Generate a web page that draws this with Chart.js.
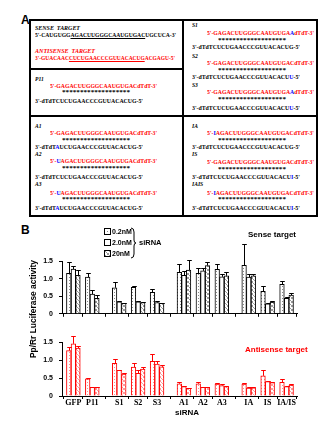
<!DOCTYPE html>
<html><head><meta charset="utf-8">
<script src="https://cdn.jsdelivr.net/npm/chart.js@4.4.0/dist/chart.umd.min.js"></script>
<style>
html,body{margin:0;padding:0;background:#fff;}
body{width:333px;height:428px;position:relative;overflow:hidden;font-family:'Liberation Sans',Arial,sans-serif;}
.abs{position:absolute;white-space:nowrap;}
.seq{font:bold 7px 'Liberation Serif','Times New Roman',serif;line-height:7px;transform-origin:0 50%;}
.lab{font:italic bold 7px 'Liberation Serif','Times New Roman',serif;line-height:7px;transform-origin:0 50%;color:#000;}
.sans{font-family:'Liberation Sans',Arial,sans-serif;font-weight:bold;}
.r{color:#ff0000}.b{color:#0000ff}
.ul{text-decoration:underline;}
.ln{position:absolute;background:#000;}
canvas{position:absolute;left:0;}
</style></head><body>

<div class="abs sans" style="left:21px;top:14px;font-size:12px;line-height:12px;">A</div>
<div class="abs sans" style="left:21px;top:224px;font-size:12px;line-height:12px;">B</div>

<div class="ln" style="left:29px;top:19px;width:289px;height:2px;"></div>
<div class="ln" style="left:29px;top:215px;width:289px;height:2px;"></div>
<div class="ln" style="left:29px;top:19px;width:2px;height:198px;"></div>
<div class="ln" style="left:316px;top:19px;width:2px;height:198px;"></div>
<div class="ln" style="left:182px;top:19px;width:2px;height:198px;"></div>
<div class="ln" style="left:29px;top:68px;width:154px;height:2px;"></div>
<div class="ln" style="left:29px;top:115px;width:289px;height:2px;"></div>

<div id="panelA"></div>

<canvas id="cTop" width="333" height="86" style="top:238px;"></canvas>
<canvas id="cBot" width="333" height="85" style="top:325px;"></canvas>

<div class="abs sans" style="left:248px;top:231px;font-size:8px;line-height:8px;color:#000;">Sense target</div>
<div class="abs sans" style="left:245px;top:346px;font-size:8px;line-height:8px;color:#ff0000;">Antisense target</div>
<div class="abs sans" style="left:175px;top:409px;font-size:8px;line-height:8px;">siRNA</div>
<div id="ytitle" class="abs sans" style="left:33px;top:309px;font-size:8.5px;line-height:9px;transform-origin:0 0;">Pp/Rr Luciferase activity</div>

<div id="legend"></div>

<script>
// ---------------- data ----------------
const categories = ['GFP','P11','S1','S2','S3','A1','A2','A3','IA','IS','IA/IS'];
const groupOf    = [0,0,1,1,1,2,2,2,3,3,3];
const concentrations = ['0.2nM','2.0nM','20nM'];
const yTickLabels = ['0','0.5','1.0','1.5'];

// Sense target (mean, SEM)
const sense02  = [1.15,1.04,0.74,0.75,0.61,1.18,1.15,1.26,1.38,0.64,0.84];
const sense02e = [0.31,0.11,0.16,0.05,0.10,0.24,0.16,0.16,0.60,0.14,0.09];
const sense2   = [1.27,0.56,0.34,0.34,0.32,1.09,1.22,1.05,1.04,0.28,0.44];
const sense2e  = [0.10,0.11,0.03,0.02,0.03,0.14,0.07,0.07,0.08,0.02,0.05];
const sense20  = [1.09,0.44,0.30,0.32,0.30,1.24,1.37,1.08,1.08,0.33,0.53];
const sense20e = [0.16,0.10,0.02,0.02,0.02,0.30,0.09,0.10,0.06,0.02,0.05];

// Antisense target (mean, SEM)
const anti02  = [1.26,0.48,0.91,0.80,0.96,0.34,0.34,0.33,0.33,0.56,0.38];
const anti02e = [0.10,0.02,0.13,0.11,0.20,0.05,0.04,0.03,0.03,0.15,0.10];
const anti2   = [1.45,0.24,0.71,0.63,0.89,0.26,0.24,0.29,0.22,0.40,0.26];
const anti2e  = [0.21,0.00,0.02,0.08,0.07,0.03,0.02,0.03,0.02,0.02,0.02];
const anti20  = [1.33,0.24,0.61,0.75,0.81,0.21,0.24,0.26,0.23,0.37,0.30];
const anti20e = [0.07,0.02,0.03,0.05,0.05,0.01,0.01,0.02,0.02,0.03,0.02];

// ---------------- panel A text ----------------
const STARS = '*******************';
const rows = [
  [35,28,'SENSE&nbsp; TARGET','lab',45],
  [35,35,"5'-CAUGUGG<span class='ul'>AGACUUGGGCAAUGUGAC</span>UGCUCA-3'",'seq',141],
  [35,51,"<span class='r'>ANTISENSE&nbsp; TARGET</span>",'lab',60],
  [35,58,"<span class='r'>3'-GUACAAC<span class='ul'>CUCUGAACCCGUUACACUG</span>ACGAGU-5'</span>",'seq',140],

  [35,79,'P11','lab',0],
  [50,86,"<span class='r'>5'-GAGACUUGGGCAAUGUGACdTdT-3'</span>",'seq',107],
  [62,92,STARS,'seq',68],
  [35,101,"3'-dTdTCUCUGAACCCGUUACACUG-5'",'seq',108],

  [192,25,'S1','lab',0],
  [207,33,"<span class='r'>5'-GAGACUUGGGCAAUGUGA<span class='b'>A</span>dTdT-3'</span>",'seq',107],
  [218,40,STARS,'seq',68],
  [192,47,"3'-dTdTCUCUGAACCCGUUACACUG-5'",'seq',108],
  [192,56,'S2','lab',0],
  [207,63,"<span class='r'>5'-GAGACUUGGGCAAUGUGACdTdT-3'</span>",'seq',107],
  [218,70,STARS,'seq',68],
  [192,77,"3'-dTdTCUCUGAACCCGUUACACU<span class='b'>U</span>-5'",'seq',108],
  [192,85,'S3','lab',0],
  [207,92,"<span class='r'>5'-GAGACUUGGGCAAUGUGA<span class='b'>A</span>dTdT-3'</span>",'seq',107],
  [218,99,STARS,'seq',68],
  [192,108,"3'-dTdTCUCUGAACCCGUUACACU<span class='b'>U</span>-5'",'seq',108],

  [35,126,'A1','lab',0],
  [50,133,"<span class='r'>5'-GAGACUUGGGCAAUGUGACdTdT-3'</span>",'seq',107],
  [62,140,STARS,'seq',68],
  [35,147,"3'-dTdT<span class='b'>A</span>UCUGAACCCGUUACACUG-5'",'seq',108],
  [35,154,'A2','lab',0],
  [50,161,"<span class='r'>5'-<span class='b'>U</span>AGACUUGGGCAAUGUGACdTdT-3'</span>",'seq',107],
  [62,168,STARS,'seq',68],
  [35,177,"3'-dTdTCUCUGAACCCGUUACACUG-5'",'seq',108],
  [35,184,'A3','lab',0],
  [50,193,"<span class='r'>5'-<span class='b'>U</span>AGACUUGGGCAAUGUGACdTdT-3'</span>",'seq',107],
  [62,199,STARS,'seq',68],
  [35,208,"3'-dTdT<span class='b'>A</span>UCUGAACCCGUUACACUG-5'",'seq',108],

  [192,126,'IA','lab',0],
  [207,133,"<span class='r'>5'-<span class='b'>I</span>AGACUUGGGCAAUGUGACdTdT-3'</span>",'seq',107],
  [218,140,STARS,'seq',68],
  [192,147,"3'-dTdTCUCUGAACCCGUUACACUG-5'",'seq',108],
  [192,154,'IS','lab',0],
  [207,162,"<span class='r'>5'-GAGACUUGGGCAAUGUGACdTdT-3'</span>",'seq',107],
  [218,169,STARS,'seq',68],
  [192,177,"3'-dTdTCUCUGAACCCGUUACACU<span class='b'>I</span>-5'",'seq',108],
  [192,184,'IAIS','lab',0],
  [207,193,"<span class='r'>5'-<span class='b'>I</span>AGACUUGGGCAAUGUGACdTdT-3'</span>",'seq',107],
  [218,199,STARS,'seq',68],
  [192,208,"3'-dTdTCUCUGAACCCGUUACACU<span class='b'>I</span>-5'",'seq',108]
];
const pA = document.getElementById('panelA');
rows.forEach(([x,y,html,cls,w])=>{
  const d = document.createElement('div');
  d.className = 'abs ' + cls;
  d.style.left = x+'px'; d.style.top = (y-3.5)+'px';
  d.innerHTML = html;
  pA.appendChild(d);
  const nat = d.getBoundingClientRect().width;
  const s = w ? w/nat : 0.8;
  d.style.transform = 'scaleX('+s+')';
});

// y title fit
(function(){
  const t = document.getElementById('ytitle');
  const nat = t.getBoundingClientRect().width;
  const h = t.getBoundingClientRect().height;
  const s = 98/nat;
  t.style.transform = 'translate(' + (-h/2) + 'px,' + (nat*s/2) + 'px) rotate(-90deg) scaleX(' + s + ')';
})();

// ---------------- patterns ----------------
function makePattern(kind, color){
  const c = document.createElement('canvas');
  const n = kind==='dots' ? 3 : 4;
  c.width = n; c.height = n;
  const g = c.getContext('2d');
  g.fillStyle = '#fff'; g.fillRect(0,0,n,n);
  g.fillStyle = color;
  if (kind==='dots'){ g.fillRect(0,0,1,1); }
  else if (kind==='cross'){ [[0,0],[1,1],[2,2],[3,3],[3,0],[0,3]].forEach(p=>g.fillRect(p[0],p[1],1,1)); }
  return g.createPattern(c,'repeat');
}
const blackPats = [makePattern('dots','#8a8a8a'), '#ffffff', makePattern('cross','#9a9a9a')];
const redPats   = [makePattern('dots','#ff8c8c'), '#ffffff', makePattern('cross','#ff9a9a')];

// ---------------- layout of categories ----------------
const GAP = 0.42;
const positions = categories.map((c,i)=> i + GAP*groupOf[i]);

const errorBars = {
  id:'errorBars',
  afterDatasetsDraw(chart){
    const ctx = chart.ctx, ys = chart.scales.y;
    chart.data.datasets.forEach((ds,di)=>{
      const meta = chart.getDatasetMeta(di);
      meta.data.forEach((bar,i)=>{
        const e = ds.errors[i]; if(!e) return;
        const v = ds.data[i].y;
        const yTop = Math.round(ys.getPixelForValue(v+e)) + 0.5;
        const x = Math.round(bar.x) + 0.5;
        const hw = bar.width/2;
        ctx.save();
        ctx.strokeStyle = ds.borderColor; ctx.lineWidth = 1;
        ctx.beginPath();
        ctx.moveTo(x, bar.y); ctx.lineTo(x, yTop);
        ctx.moveTo(x-hw, yTop); ctx.lineTo(x+hw, yTop);
        ctx.stroke();
        ctx.restore();
      });
    });
  }
};

function buildChart(id, series, errs, color, pats, padTop, xHeight, showLabels){
  const datasets = series.map((vals,k)=>({
    label: concentrations[k],
    data: vals.map((v,i)=>({x: positions[i], y: v})),
    errors: errs[k],
    backgroundColor: pats[k],
    borderColor: color,
    borderWidth: 1,
    barThickness: 4.6
  }));
  return new Chart(document.getElementById(id), {
    type:'bar',
    data:{datasets},
    options:{
      responsive:false, animation:false, devicePixelRatio:1,
      layout:{padding:{top:padTop, right:36, left:0, bottom:0}},
      plugins:{legend:{display:false}, tooltip:{enabled:false}},
      scales:{
        x:{
          type:'linear', offset:false, bounds:'data', min:-0.6, max:positions[positions.length-1]+0.55,
          afterBuildTicks: s => { s.ticks = positions.map(v=>({value:v})); },
          afterFit: s => { s.height = xHeight; },
          border:{display:true, color:'#000', width:1},
          grid:{display:true, drawOnChartArea:false, drawTicks:true, tickLength:3, color:'#000', offset:true},
          ticks:{display:showLabels, autoSkip:false, maxRotation:0, minRotation:0, padding:-1, color:'#000',
                 font:{family:"'Liberation Serif','Times New Roman',serif", size:8, weight:'bold'},
                 callback:(v,i)=>categories[i]}
        },
        y:{
          min:0, max:1.5,
          afterFit: s => { s.width = 62; },
          border:{display:true, color:'#000', width:1},
          grid:{drawOnChartArea:false, drawTicks:true, tickLength:3, color:'#000'},
          ticks:{stepSize:0.5, padding:6, color:'#000',
                 font:{family:"'Liberation Sans',Arial,sans-serif", size:7, weight:'bold'},
                 callback: v => yTickLabels[Math.round(v/0.5)]}
        }
      }
    },
    plugins:[errorBars]
  });
}

buildChart('cTop', [sense02,sense2,sense20], [sense02e,sense2e,sense20e], '#000000', blackPats, 23, 8, false);
buildChart('cBot', [anti02,anti2,anti20], [anti02e,anti2e,anti20e], '#ff0000', redPats, 17, 14, true);

// ---------------- legend ----------------
const lg = document.getElementById('legend');
const legendY = [231.5, 242.5, 253.5];
concentrations.forEach((name,k)=>{
  const c = document.createElement('canvas');
  c.width = 7; c.height = 7;
  c.style.position='absolute'; c.style.left='104px'; c.style.top=(legendY[k]-3.5)+'px';
  const g = c.getContext('2d');
  g.fillStyle = blackPats[k]; g.fillRect(0,0,7,7);
  g.strokeStyle = '#000'; g.lineWidth = 1; g.strokeRect(0.5,0.5,6,6);
  lg.appendChild(c);
  const t = document.createElement('div');
  t.className = 'abs sans';
  t.style.cssText += 'left:112px;top:'+(legendY[k]-4)+'px;font-size:7px;line-height:8px;';
  t.textContent = name;
  lg.appendChild(t);
});
const br = document.createElementNS('http://www.w3.org/2000/svg','svg');
br.setAttribute('width','8'); br.setAttribute('height','32');
br.style.cssText = 'position:absolute;left:130px;top:227px;';
br.innerHTML = '<path d="M1 1 Q4 1 4 5 L4 13 Q4 16 6 16 Q4 16 4 19 L4 27 Q4 31 1 31" fill="none" stroke="#000" stroke-width="1"/>';
lg.appendChild(br);
const sl = document.createElement('div');
sl.className = 'abs sans';
sl.style.cssText += 'left:139px;top:238.5px;font-size:7.5px;line-height:8px;';
sl.textContent = 'siRNA';
lg.appendChild(sl);
</script>
</body></html>
